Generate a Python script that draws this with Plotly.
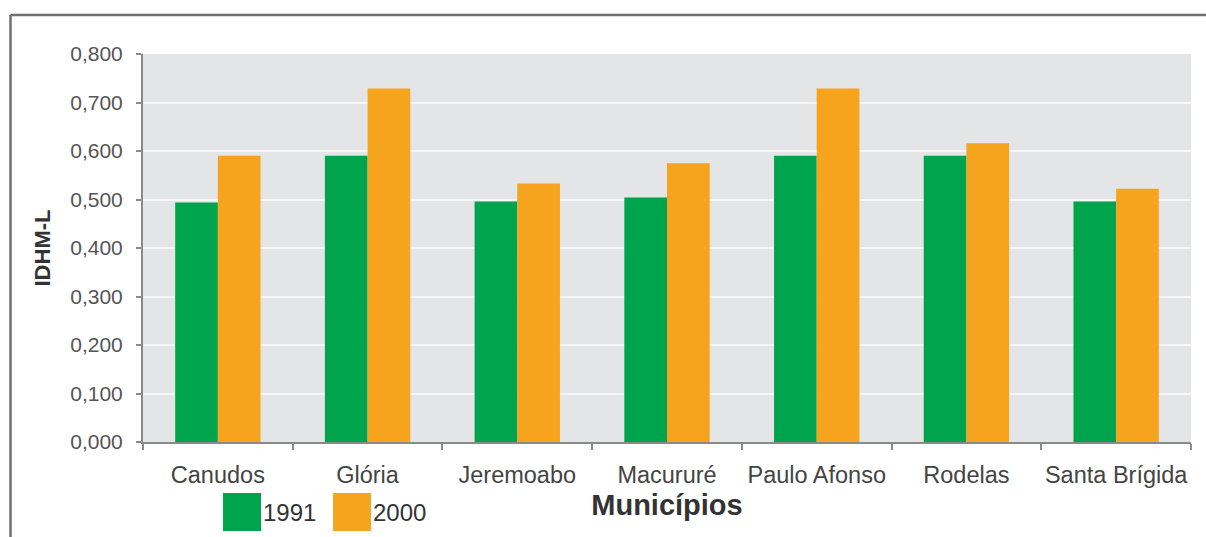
import plotly.graph_objects as go

# IDHM-L (longevity) by municipality, 1991 and 2000
municipios = ["Canudos", "Glória", "Jeremoabo", "Macururé",
              "Paulo Afonso", "Rodelas", "Santa Brígida"]
idhm_1991 = [0.494, 0.590, 0.496, 0.504, 0.590, 0.590, 0.496]
idhm_2000 = [0.590, 0.729, 0.533, 0.575, 0.729, 0.616, 0.522]
series_names = ["1991", "2000"]
y_ticks = [0.0, 0.1, 0.2, 0.3, 0.4, 0.5, 0.6, 0.7, 0.8]

GREEN = "#00a44c"
ORANGE = "#f6a41d"
FONT = "Liberation Sans, Arial, Helvetica, sans-serif"
FRAME = "#707070"

W, H = 1206, 537
ML, MR, MT, MB = 143, 15, 54, 95
PW, PH = W - ML - MR, H - MT - MB


def px(x):
    return (x - ML) / PW


def py(y):
    return (H - MB - y) / PH


fig = go.Figure()
for name, vals, col in [(series_names[0], idhm_1991, GREEN),
                        (series_names[1], idhm_2000, ORANGE)]:
    fig.add_trace(go.Bar(x=municipios, y=vals, name=name,
                         marker=dict(color=col, line=dict(width=0))))

fig.update_layout(
    width=W, height=H,
    margin=dict(l=ML, r=MR, t=MT, b=MB),
    paper_bgcolor="white",
    plot_bgcolor="#e4e5e7",
    barmode="group", bargap=0.43, bargroupgap=0,
    showlegend=False,
    separators=",.",
    font=dict(family=FONT, color="#444444"),
)

fig.update_yaxes(
    range=[0, 0.8], tickvals=y_ticks, tickformat=".3f",
    tickfont=dict(size=21, color="#555555"),
    ticks="outside", ticklen=5, tickcolor="#8a8a8a", tickwidth=1.5,
    ticklabelstandoff=9, automargin=False,
    showline=True, linecolor="#8a8a8a", linewidth=2,
    showgrid=True, gridcolor="#f6f6f6", gridwidth=2,
    zeroline=False,
    title=dict(text="<b>IDHM-L</b>", font=dict(size=22, color="#333333"),
               standoff=14),
)

fig.update_xaxes(
    tickson="boundaries", ticks="outside", ticklen=6,
    tickcolor="#8a8a8a", tickwidth=1.5,
    tickfont=dict(size=23.5, color="#444444"),
    tickangle=0, automargin=False,
    ticklabelstandoff=11,
    showline=True, linecolor="#8a8a8a", linewidth=2,
    title=dict(text="<b>Municípios</b>", font=dict(size=29, color="#333333"),
               standoff=7),
)

# outer frame (top and left edges)
fig.add_shape(type="line", xref="paper", yref="paper",
              x0=px(10.5), x1=px(W), y0=py(15), y1=py(15),
              line=dict(color=FRAME, width=2.5))
fig.add_shape(type="line", xref="paper", yref="paper",
              x0=px(10.5), x1=px(10.5), y0=py(15), y1=py(H + 5),
              line=dict(color=FRAME, width=2.5))

# legend swatches and labels
for name, col, x0 in [(series_names[0], GREEN, 223), (series_names[1], ORANGE, 333)]:
    fig.add_shape(type="rect", xref="paper", yref="paper",
                  x0=px(x0), x1=px(x0 + 38), y0=py(493), y1=py(531),
                  fillcolor=col, line=dict(width=0))
    fig.add_annotation(xref="paper", yref="paper", x=px(x0 + 38), y=py(512),
                       xanchor="left", yanchor="middle", showarrow=False,
                       text=name, font=dict(size=24, color="#333333"))

fig.write_html("out.html")
